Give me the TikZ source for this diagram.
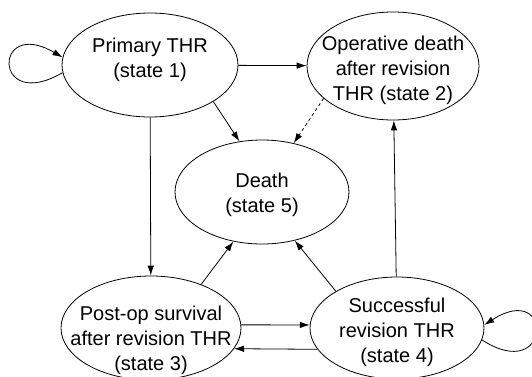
\documentclass[tikz,border=0pt]{standalone}
\usepackage{fontspec}
\setmainfont{Liberation Sans}
\usetikzlibrary{shapes.geometric,arrows.meta}

\begin{document}
\begin{tikzpicture}[x=1pt,y=1pt,line width=0.8pt,>={Latex[length=10pt,width=6.5pt]},state node/.style={ellipse,draw,inner sep=0pt},text node/.style={align=center,font=\fontsize{20}{25}\selectfont}]
        \useasboundingbox (0,0) rectangle (532,376);
        \node [state node, minimum width=176, minimum height=104] (1) at (150,311) {};
        \node [state node, minimum width=172, minimum height=108] (2) at (393,310) {};
        \node [state node, minimum width=180, minimum height=104] (3) at (151,48) {};
        \node [state node, minimum width=174, minimum height=102] (4) at (397,48) {};
        \node [state node, minimum width=174, minimum height=104] (5) at (262,184) {};
        \node [text node] (t1) at ([yshift=5]1) {Primary THR\\(state 1)};
        \node [text node] (t2) at ([yshift=-4]2) {Operative death\\after revision\\THR (state 2)};
        \node [text node] (t3) at ([yshift=-12]3) {Post-op survival\\after revision THR\\(state 3)};
        \node [text node] (t4) at ([yshift=-4]4) {Successful\\revision THR\\(state 4)};
        \node [text node] (t5) at ([yshift=-3]5) {Death\\(state 5)};
        \path [draw] (1) edge [->] (2);
        \path [draw] (1.-30) edge [->] (5.114);
        \path [draw] (2.205) edge [->,dashed] (5.57);
        \path [draw] (1) edge [->] (3);
        \path [draw] (3.41) edge [->] (5.240);
        \path [draw] (4.149) edge [->] (5.304);
        \path [draw] (4) edge [->] (2);
        \path [draw] (3.2) edge [->] (4.178);
        \path [draw] (4.195) edge [->] (3.-14);
        \path [draw,->] (1.185) .. controls +(-70,-41) and +(-70,41) .. (1.175);
        \path [draw,->] (4.-8) .. controls +(70,-45) and +(70,45) .. (4.2);
    \end{tikzpicture}
\end{document}
